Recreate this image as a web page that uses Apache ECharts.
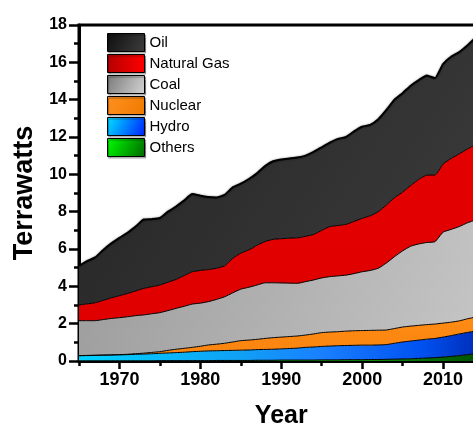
<!DOCTYPE html>
<html>
<head>
<meta charset="utf-8">
<script src="https://cdn.jsdelivr.net/npm/echarts@6/dist/echarts.min.js"></script>
<style>
html,body{margin:0;padding:0;background:#fff;}
#chart{width:473px;height:426px;}
</style>
</head>
<body>
<div id="chart"></div>
<script>
var years = [1965,1966,1967,1968,1969,1970,1971,1972,1973,1974,1975,1976,1977,1978,1979,1980,1981,1982,1983,1984,1985,1986,1987,1988,1989,1990,1991,1992,1993,1994,1995,1996,1997,1998,1999,2000,2001,2002,2003,2004,2005,2006,2007,2008,2009,2010,2011,2012,2013,2014,2015];

var oil = [2.10,2.29,2.43,2.70,2.92,3.10,3.25,3.45,3.69,3.62,3.59,3.78,3.90,4.02,4.16,4.01,3.88,3.79,3.80,3.80,3.72,3.80,3.85,4.05,4.18,4.25,4.27,4.30,4.32,4.42,4.45,4.50,4.64,4.68,4.82,4.91,4.87,4.95,5.09,5.25,5.30,5.35,5.32,5.34,5.19,5.35,5.45,5.45,5.55,5.70,5.70];

var naturalGas = [0.84,0.90,0.96,1.03,1.10,1.18,1.25,1.32,1.42,1.45,1.48,1.52,1.55,1.65,1.73,1.75,1.72,1.67,1.66,1.85,1.93,2.00,2.13,2.21,2.33,2.37,2.41,2.44,2.43,2.44,2.55,2.68,2.70,2.72,2.80,2.86,2.93,3.03,3.11,3.16,3.15,3.25,3.46,3.61,3.57,3.65,3.80,3.90,3.95,4.05,4.15];

var coal = [1.87,1.86,1.85,1.90,1.95,1.98,2.01,2.04,2.05,2.07,2.09,2.13,2.19,2.25,2.32,2.31,2.32,2.40,2.49,2.63,2.76,2.83,2.91,2.98,2.94,2.90,2.86,2.82,2.86,2.89,2.93,2.97,2.99,3.00,3.06,3.15,3.21,3.32,3.59,3.85,4.08,4.28,4.36,4.40,4.41,4.87,4.97,5.05,5.14,5.20,5.22];

var nuclear = [0.01,0.01,0.01,0.01,0.01,0.01,0.02,0.03,0.05,0.07,0.09,0.14,0.18,0.21,0.23,0.27,0.32,0.35,0.39,0.45,0.51,0.53,0.55,0.59,0.62,0.63,0.64,0.65,0.66,0.70,0.74,0.75,0.75,0.77,0.78,0.78,0.79,0.79,0.78,0.79,0.80,0.80,0.79,0.78,0.77,0.75,0.72,0.70,0.73,0.75,0.76];

var hydro = [0.27,0.28,0.29,0.30,0.31,0.32,0.33,0.35,0.36,0.38,0.39,0.41,0.43,0.45,0.48,0.50,0.52,0.52,0.53,0.54,0.55,0.56,0.57,0.58,0.59,0.60,0.62,0.64,0.68,0.70,0.72,0.74,0.76,0.76,0.77,0.78,0.77,0.78,0.79,0.85,0.91,0.95,0.98,1.01,1.03,1.07,1.11,1.16,1.19,1.21,1.23];

var others = [0.01,0.01,0.01,0.01,0.01,0.01,0.01,0.01,0.01,0.01,0.02,0.02,0.02,0.02,0.02,0.02,0.02,0.03,0.03,0.03,0.03,0.03,0.04,0.04,0.04,0.05,0.05,0.05,0.05,0.05,0.06,0.06,0.06,0.07,0.07,0.07,0.08,0.08,0.09,0.10,0.11,0.12,0.14,0.16,0.18,0.21,0.25,0.29,0.34,0.39,0.44];

var seriesNames = ['Oil','Natural Gas','Coal','Nuclear','Hydro','Others'];

function lg(x2,y2,stops){ return new echarts.graphic.LinearGradient(0,0,x2,y2,stops.map(function(s){return {offset:s[0],color:s[1]};})); }

var areaFills = {
  'Oil': lg(1,1,[[0,'#242424'],[1,'#3c3c3c']]),
  'Natural Gas': lg(0,1,[[0,'#e40000'],[1,'#e00000']]),
  'Coal': lg(1,1,[[0,'#9c9c9c'],[1,'#c6c6c6']]),
  'Nuclear': lg(0,1,[[0,'#ff8c14'],[1,'#f98410']]),
  'Hydro': lg(1,1,[[0,'#00d4ff'],[0.4,'#10a0f5'],[0.6,'#1a80ff'],[0.85,'#0050f0'],[1,'#0028b0']]),
  'Others': lg(1,1,[[0,'#00e000'],[0.6,'#10a010'],[1,'#005000']])
};
var legendFills = {
  'Oil': lg(1,1,[[0,'#0e0e0e'],[1,'#3e3e3e']]),
  'Natural Gas': lg(1,0,[[0,'#b40000'],[1,'#ff0000']]),
  'Coal': lg(1,1,[[0,'#7a7a7a'],[1,'#d4d4d4']]),
  'Nuclear': lg(1,1,[[0,'#ff9020'],[1,'#f07a00']]),
  'Hydro': lg(1,1,[[0,'#00e4ff'],[1,'#0020ff']]),
  'Others': lg(1,1,[[0,'#00ff00'],[1,'#006800']])
};
var valuesByName = {'Oil':oil,'Natural Gas':naturalGas,'Coal':coal,'Nuclear':nuclear,'Hydro':hydro,'Others':others};

var stackOrder = ['Others','Hydro','Nuclear','Coal','Natural Gas','Oil'];
var series = stackOrder.map(function(name){
  var top = name === 'Oil';
  return {
    name: name, type: 'line', stack: 'total', data: valuesByName[name],
    xAxisIndex: 0, yAxisIndex: 0,
    showSymbol: false, symbol: 'none', smooth: 0.15,
    lineStyle: {color:'#000', width: top ? 2 : 1, shadowBlur: top ? 2 : 0, shadowColor: 'rgba(0,0,0,0.5)'},
    areaStyle: {color: areaFills[name], opacity: 1},
    itemStyle: {color: areaFills[name]},
    emphasis: {disabled: true},
    animation: false
  };
});

var yearLabels = years.map(String);
var font = "'Liberation Sans', Arial, sans-serif";
var chart = echarts.init(document.getElementById('chart'), null, {renderer:'canvas'});
chart.setOption({
  backgroundColor: '#fff',
  animation: false,
  textStyle: {fontFamily: font},
  grid: {left: 79, top: 25, right: -10.5, bottom: 65, outerBoundsMode: 'none', containLabel: false,
         show: true, borderColor: '#000', borderWidth: 3, backgroundColor: 'transparent'},
  legend: {
    orient: 'vertical', left: 107, top: 33, padding: 0, itemGap: 2,
    itemWidth: 37, itemHeight: 18, icon: 'rect',
    textStyle: {fontSize: 15, color: '#000', fontFamily: font},
    data: seriesNames.map(function(n){ return {name: n, itemStyle: {color: legendFills[n], borderColor: '#000', borderWidth: 1, shadowColor: 'rgba(0,0,0,0.35)', shadowOffsetX: 1, shadowOffsetY: 1.5, shadowBlur: 1}}; }),
    selectedMode: false
  },
  xAxis: [{
    type: 'category', data: yearLabels, boundaryGap: false,
    name: 'Year', nameLocation: 'middle', nameGap: 43,
    nameTextStyle: {fontSize: 25, fontWeight: 'bold', color: '#000', fontFamily: font},
    axisLine: {show: true, onZero: false, lineStyle: {color: '#000', width: 3}},
    axisTick: {show: true, interval: function(i, v){ return (+v) % 10 === 0; }, length: 8, lineStyle: {color: '#000', width: 2.5}},
    axisLabel: {interval: function(i, v){ return (+v) % 10 === 0 && (+v) < 2015; }, fontSize: 18, fontWeight: 'bold', color: '#000', margin: 10, fontFamily: font},
    splitLine: {show: false}
  },{
    type: 'category', data: yearLabels, boundaryGap: false, position: 'bottom',
    axisLine: {show: false},
    axisTick: {show: true, interval: function(i, v){ return (+v) % 10 === 5; }, length: 5, lineStyle: {color: '#000', width: 2.5}},
    axisLabel: {show: false},
    splitLine: {show: false}
  }],
  yAxis: {
    type: 'value', min: 0, max: 18, interval: 2,
    name: 'Terrawatts', nameLocation: 'middle', nameGap: 39,
    nameTextStyle: {fontSize: 27, fontWeight: 'bold', color: '#000', fontFamily: font},
    axisLine: {show: true, onZero: false, lineStyle: {color: '#000', width: 3}},
    axisTick: {show: true, length: 10, lineStyle: {color: '#000', width: 2.5}},
    minorTick: {show: true, splitNumber: 2, length: 5, lineStyle: {color: '#000', width: 2.5}},
    axisLabel: {fontSize: 16, fontWeight: 'bold', color: '#000', margin: 12, fontFamily: font},
    splitLine: {show: false}
  },
  series: series
});
</script>
</body>
</html>
